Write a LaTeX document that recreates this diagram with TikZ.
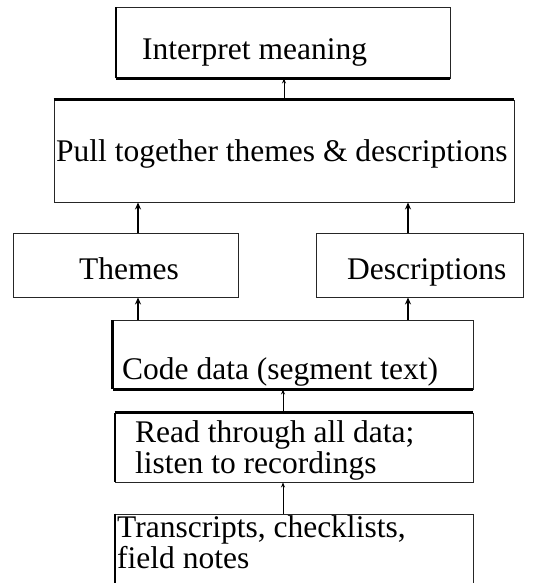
\documentclass[tikz,border=0pt]{standalone}
\usepackage{fontspec}
\setmainfont{Liberation Serif}
\usetikzlibrary{arrows.meta,calc}
\begin{document}
\begin{tikzpicture}[x=1pt,y=-1pt,
  box/.style={draw=black!85,line width=0.9pt,inner sep=0pt,fill=none},
  heavy/.style={draw=black,line width=3pt},
  medium/.style={draw=black,line width=2pt},
  lbl/.style={inner sep=0pt,font=\fontsize{31.5}{31}\selectfont,align=left},
  thinarrow/.style={draw=black,line width=0.8pt,-{Stealth[length=5pt,width=4pt]}},
  boldarrow/.style={draw=black,line width=2.6pt,-{Stealth[length=7pt,width=6pt]}}]
\useasboundingbox (0,0) rectangle (536,583);
\clip (0,0) rectangle (536,583);

% boxes of the flow, bottom to top
\node[box,minimum width=358pt,minimum height=100pt] (tr) at (294,564) {};
\node[box,minimum width=358pt,minimum height=69pt] (rd) at (294,447.5) {};
\node[box,minimum width=360pt,minimum height=69pt] (cd) at (293,354.5) {};
\node[box,minimum width=225pt,minimum height=64pt] (th) at (125.5,265) {};
\node[box,minimum width=207pt,minimum height=64pt] (de) at (419.5,265) {};
\node[box,minimum width=460pt,minimum height=102pt] (pt) at (284,151) {};
\node[box,minimum width=334pt,minimum height=71pt] (im) at (283,42.5) {};

% heavier box edges
\draw[heavy] (im.south west) -- (im.south east);
\draw[medium] (im.south west) -- (im.north west);
\draw[heavy] (pt.north west) -- (pt.north east);
\draw[heavy] (cd.south west) -- (cd.north west);
\draw[heavy] (cd.south west) -- (cd.south east);
\draw[heavy] (rd.north west) -- (rd.north east);
\draw[medium] (rd.north west) -- (rd.south west);
\draw[medium] (tr.north west) -- (tr.south west);

% labels (multi-line labels are anchored on their last line)
\node[lbl,anchor=base west] (tim) at (142,60) {Interpret meaning};
\node[lbl,anchor=base west] (tpt) at (56,161) {Pull together themes \& descriptions};
\node[lbl,anchor=base west] (tth) at (79,279) {Themes};
\node[lbl,anchor=base west] (tde) at (347,279) {Descriptions};
\node[lbl,anchor=base west] (tcd) at (122,379) {Code data (segment text)};
\node[lbl,anchor=base west] (trd) at (135,473) {Read through all data;\\listen to recordings};
\node[lbl,anchor=base west] (ttr) at (117,568) {Transcripts, checklists,\\field notes};

% connectors
\draw[thinarrow] ([xshift=-11pt]tr.north) -- ([xshift=-11pt]tr.north |- rd.south);
\draw[thinarrow] ([xshift=-11pt]rd.north) -- ([xshift=-11pt]rd.north |- cd.south);
\draw[boldarrow] ([xshift=-155pt]cd.north) -- ([xshift=-155pt]cd.north |- th.south);
\draw[boldarrow] ([xshift=115pt]cd.north) -- ([xshift=115pt]cd.north |- de.south);
\draw[boldarrow] ([xshift=12.5pt]th.north) -- ([xshift=12.5pt]th.north |- pt.south);
\draw[boldarrow] ([xshift=-11.5pt]de.north) -- ([xshift=-11.5pt]de.north |- pt.south);
\draw[thinarrow] (pt.north) -- (pt.north |- im.south);
\end{tikzpicture}
\end{document}
